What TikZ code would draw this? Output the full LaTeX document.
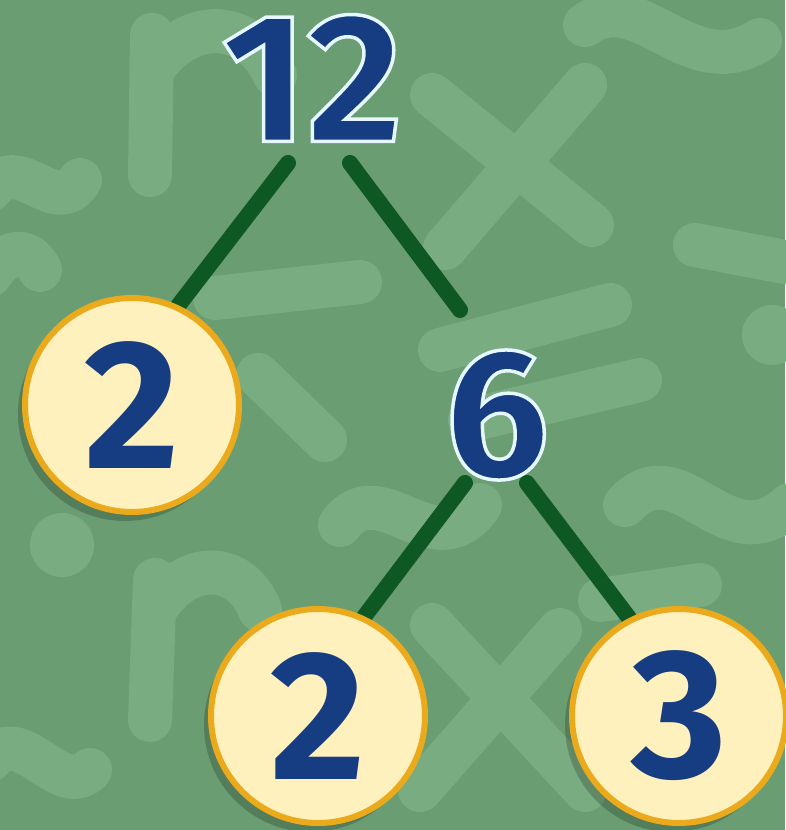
\documentclass[tikz,border=0pt]{standalone}
\usepackage{fontspec}
\setmainfont{Fira Sans}
\usetikzlibrary{shadows}
\definecolor{bggreen}{RGB}{106,157,114}
\definecolor{decogreen}{RGB}{122,172,129}
\definecolor{branchgreen}{RGB}{14,88,36}
\definecolor{cream}{RGB}{255,241,189}
\definecolor{gold}{RGB}{234,170,28}
\definecolor{navy}{RGB}{22,61,130}
\pgfdeclarelayer{bg}
\pgfdeclarelayer{lines}
\pgfsetlayers{bg,lines,main}
\newcommand{\outlined}[1]{\special{pdf:literal direct 2 Tr 3.5 w 0.9 0.97 1 RG}#1\special{pdf:literal direct 0 Tr}}
\tikzset{
  numfont/.style={font=\fontsize{184}{184}\bfseries\selectfont},
  numtxt/.style={numfont, inner sep=0pt, text=navy},
  leaf/.style={numfont, circle, minimum size=214pt, inner sep=0pt, line width=6pt,
    draw=gold, fill=cream, text=navy,
    drop shadow={shadow xshift=-7pt, shadow yshift=-9pt, fill=black, opacity=0.2}},
  branch/.style={line width=16pt, draw=branchgreen, line cap=round},
  deco/.style={line width=44pt, draw=decogreen, line cap=round, line join=round}
}
\begin{document}
\begin{tikzpicture}[x=1pt, y=1pt]
\useasboundingbox (0,0) rectangle (785,830);

\node[numtxt] (n12) at (312,752) {\outlined{12}};
\node[numtxt] (n6) at (497,415) {\outlined{6}};
\node[leaf] (l2) at (132,425) {2};
\node[leaf] (b2) at (318,114) {2};
\node[leaf] (b3) at (679,114) {3};

\begin{pgfonlayer}{bg}
  \fill[bggreen] (0,0) rectangle (785,830);
  \begin{scope}[yshift=830pt, yscale=-1]
    % top x
    \draw[deco] (432,95) -- (592,225);
    \draw[deco] (585,85) -- (445,248);
    % top-left n
    \draw[deco] (150,175) -- (152,35);
    \draw[deco] (152,70) .. controls (190,15) and (250,20) .. (275,75);
    % top-right tilde
    \draw[deco] (585,25) .. controls (640,-15) and (690,85) .. (760,40);
    % right bar and dot
    \draw[deco] (695,245) -- (785,262);
    \fill[decogreen] (772,335) circle (30);
    % equals near 6
    \draw[deco] (440,350) -- (610,305);
    \draw[deco] (470,420) -- (640,380);
    % right tilde middle
    \draw[deco] (625,505) .. controls (680,445) and (725,565) .. (790,505);
    % left tildes
    \draw[deco] (-10,190) .. controls (20,150) and (55,220) .. (80,180);
    \draw[deco] (-10,275) .. controls (10,245) and (30,250) .. (40,270);
    % bars near left circle
    \draw[deco] (215,298) -- (360,282);
    \draw[deco] (258,375) -- (325,440);
    % left dot
    \fill[decogreen] (62,545) circle (32);
    % bottom-left n
    \draw[deco] (150,720) -- (155,580);
    \draw[deco] (155,610) .. controls (185,560) and (240,560) .. (260,610);
    % middle tilde
    \draw[deco] (340,525) .. controls (380,470) and (435,570) .. (480,505);
    % bottom x
    \draw[deco] (432,625) -- (585,790);
    \draw[deco] (560,630) -- (420,790);
    % bottom-left tilde
    \draw[deco] (-10,760) .. controls (20,720) and (60,800) .. (90,770);
    % bottom right bar
    \draw[deco] (600,600) -- (700,585);
  \end{scope}
\end{pgfonlayer}

\begin{pgfonlayer}{lines}
  \draw[branch] ([shift={(-24,-85)}]n12.center) -- (l2.65);
  \draw[branch] ([shift={(38,-85)}]n12.center) -- ([shift={(-37,105)}]n6.center);
  \draw[branch] ([shift={(-32,-68)}]n6.center) -- (b2.65);
  \draw[branch] ([shift={(30,-68)}]n6.center) -- (b3.117);
\end{pgfonlayer}
\end{tikzpicture}
\end{document}
